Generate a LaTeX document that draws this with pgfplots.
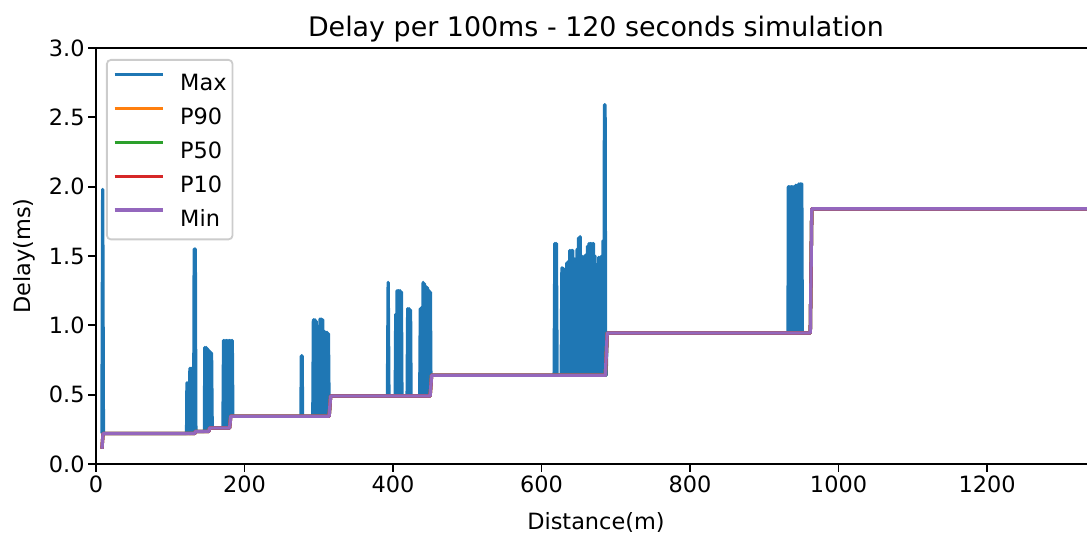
\documentclass[border=0pt]{standalone}
\usepackage{fontspec}
\setmainfont{DejaVu Sans}
\usepackage{pgfplots}
\pgfplotsset{compat=1.18}
\usepackage{pgfplotstable}

\definecolor{cMax}{HTML}{1F77B4}
\definecolor{cPn}{HTML}{FF7F0E}
\definecolor{cPf}{HTML}{2CA02C}
\definecolor{cPt}{HTML}{D62728}
\definecolor{cMin}{HTML}{9467BD}

\pgfplotstableread{
x y
8 0.22
9 1.98
10 0.22
122 0.22
122.5 0.586
123.5 0.22
124.5 0.586
125.5 0.22
126.5 0.69
127.5 0.22
128.5 0.69
129.5 0.22
130.5 0.69
131.5 0.22
132.3 1.55
133 0.22
133.7 1.55
134.5 0.235
146 0.235
146.6 0.84
147.5 0.24
148.4 0.84
149.3 0.24
150.2 0.83
151.1 0.24
152 0.82
152.9 0.26
153.8 0.81
154.7 0.26
155.6 0.80
156.5 0.26
171 0.26
171.8 0.89
172.8 0.26
173.8 0.89
174.8 0.26
175.8 0.89
176.8 0.26
177.8 0.89
178.8 0.26
179.8 0.89
180.8 0.30
181.8 0.89
182.8 0.345
183.5 0.89
184.3 0.345
276 0.345
276.6 0.78
277.6 0.78
278.2 0.345
292 0.345
292.8 1.04
293.8 0.345
294.8 1.04
295.8 0.345
296.6 1.03
297.4 0.345
299 0.345
299.7 0.81
300.6 0.345
301.6 1.045
302.6 0.345
303.6 1.045
304.6 0.345
305.4 1.04
306.2 0.345
307 0.96
308 0.345
309 0.95
310 0.345
311 0.95
312 0.345
313 0.94
314 0.345
316 0.49
392.5 0.49
393.5 1.31
394.5 0.49
403 0.49
403.7 1.08
404.6 0.49
405.5 1.25
406.5 0.49
407.5 1.25
408.5 0.49
409.5 1.25
410.5 0.49
411.3 1.24
412 0.49
419 0.49
419.8 1.12
420.8 0.49
421.8 1.12
422.8 0.49
423.6 1.11
424.3 0.49
436 0.49
436.8 1.12
437.8 0.49
438.8 1.13
439.8 0.49
440.6 1.31
441.5 0.49
442.4 1.30
443.3 0.49
444.5 1.28
445.5 0.49
446.5 1.27
447.5 0.49
448.5 1.25
449.5 0.49
450.3 1.24
451 0.64
617 0.64
618 1.59
619 0.64
620 1.59
621 0.64
626.5 0.64
627.5 1.415
628.5 0.64
629.5 1.41
630.5 0.64
633.5 0.64
634 1.45
635 0.64
636 1.46
637 0.64
638 1.54
639 0.64
640 1.54
641 0.64
642 1.54
643 0.64
644 1.48
645 0.64
646 1.48
647 0.64
648 1.55
649 0.64
650 1.63
651 0.64
652 1.64
653 0.64
654 1.50
655 0.64
656 1.48
657 0.64
658 1.50
659 0.64
660 1.51
661 0.64
662 1.57
663 0.64
664 1.59
665 0.64
666 1.59
667 0.64
668 1.59
669 0.64
670 1.59
671 0.64
672 1.50
673 0.64
676 0.64
677 1.49
678 0.64
679 1.49
680 0.64
681 1.50
682 0.64
683 1.61
684 0.64
684.8 2.59
685.6 2.59
686.4 0.64
687 0.64
688.5 0.945
932 0.945
932.5 2.00
933.5 0.945
934.5 2.00
935.5 0.945
936.5 2.00
937.5 0.945
938.5 2.00
939.5 0.945
940.5 2.00
941.5 0.945
942.5 2.01
943.5 0.945
944.5 2.01
945.5 0.945
946.5 2.02
947.5 0.945
948.5 2.02
949.5 0.945
950.5 2.02
951.2 0.945
962 0.945
964 1.84
1336 1.84
}\maxdata

\pgfplotstableread{
x y
8 0.11
9.5 0.22
133 0.22
134 0.235
152 0.235
153 0.26
180 0.26
181.5 0.345
314 0.345
316 0.49
450 0.49
452 0.64
686 0.64
688.5 0.945
962 0.945
964 1.84
1336 1.84
}\mindata

\begin{document}
\begin{tikzpicture}
\begin{axis}[
  scale only axis, width=992bp, height=416bp,
  xmin=0, xmax=1336, ymin=0, ymax=3,
  clip mode=individual,
  xtick={0,200,400,600,800,1000,1200},
  ytick={0,0.5,1,1.5,2,2.5,3},
  tick align=outside, tick pos=left,
  major tick length=7.9bp,
  every tick/.style={black, line width=1.8bp},
  axis line style={line width=1.8bp},
  /pgf/number format/assume math mode=true,
  /pgf/number format/1000 sep={},
  yticklabel style={/pgf/number format/fixed, /pgf/number format/fixed zerofill, /pgf/number format/precision=1},
  tick label style={font=\fontsize{22.5}{27}\selectfont},
  label style={font=\fontsize{22.5}{27}\selectfont},
  title style={font=\fontsize{27}{32}\selectfont, at={(axis description cs:0.504,1.0142)}, anchor=base},
  title={Delay per 100ms - 120 seconds simulation},
  xlabel={Distance(m)},
  ylabel={Delay(ms)},
  xlabel style={at={(axis description cs:0.504,-0.1395)}, anchor=center},
  ylabel style={at={(axis description cs:-0.0726,0.5)}, anchor=center},
  legend style={at={(axis description cs:0,1)}, anchor=north west, xshift=10bp, yshift=-11bp,
    draw=black!20, line width=1.8bp, rounded corners=4bp, fill=white,
    font=\fontsize{22.5}{27}\selectfont, inner xsep=6bp, inner ysep=13bp,
    row sep=16bp, column sep=16bp,
    nodes={inner sep=0bp, text height=16.5bp, text depth=0bp}},
  legend image code/.code={\draw[#1] (0bp,8bp) -- (48bp,8bp);},
  legend cell align=left,
  every axis plot/.append style={line width=3.3bp, line join=round},
]
\addplot[cMax] table {\maxdata};
\addplot[cPn] table {\mindata};
\addplot[cPf] table {\mindata};
\addplot[cPt] table {\mindata};
\addplot[cMin] table {\mindata};
\legend{Max,P90,P50,P10,Min}
\coordinate (bl) at (rel axis cs:0,0);
\coordinate (tr) at (rel axis cs:1,1);
\end{axis}
\draw[line width=1.8bp, black] (bl |- tr) -- (tr);
\pgfresetboundingbox
\path ([shift={(-96bp,-69bp)}]bl) rectangle ([shift={(-1bp,48bp)}]tr);
\end{tikzpicture}
\end{document}
